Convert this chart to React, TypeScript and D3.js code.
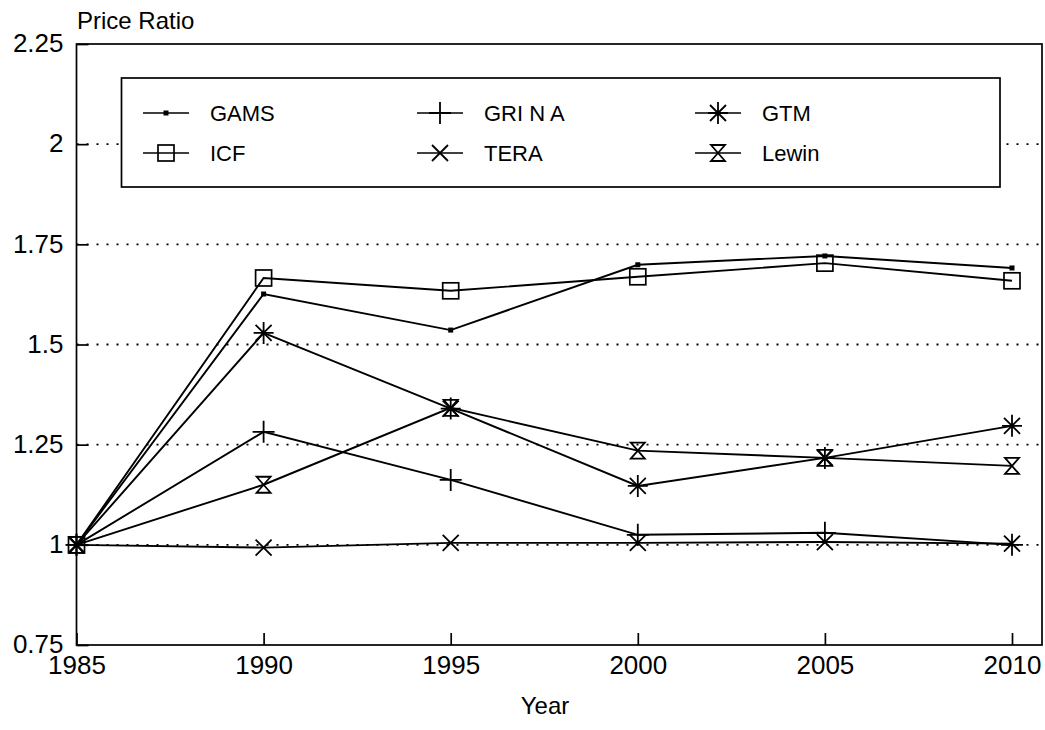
import * as d3 from 'd3';
import { useEffect, useRef } from 'react';

// Data
const years = [1985, 1990, 1995, 2000, 2005, 2010];
const gams = [1, 1.626, 1.536, 1.699, 1.721, 1.691];
const icf = [1, 1.666, 1.634, 1.669, 1.703, 1.659];
const griNA = [1, 1.282, 1.162, 1.025, 1.03, 1.0];
const tera = [1, 0.993, 1.005, 1.005, 1.007, 1.003];
const gtm = [1, 1.529, 1.34, 1.147, 1.217, 1.297];
const lewin = [1, 1.15, 1.342, 1.235, 1.217, 1.197];
const yTicks = [0.75, 1, 1.25, 1.5, 1.75, 2, 2.25];
const gridTicks = [1, 1.25, 1.5, 1.75, 2];

const series = [
    { name: 'GAMS', values: gams, marker: 'dot' },
    { name: 'ICF', values: icf, marker: 'square' },
    { name: 'GRI N A', values: griNA, marker: 'plus' },
    { name: 'TERA', values: tera, marker: 'cross' },
    { name: 'GTM', values: gtm, marker: 'star' },
    { name: 'Lewin', values: lewin, marker: 'hourglass' },
];

const FONT = '"Liberation Sans", Arial, Helvetica, sans-serif';

const drawMarker = (g, type, x, y) => {
    const m = g.append('g').attr('transform', `translate(${x},${y})`);
    if (type === 'dot') {
        m.append('rect').attr('x', -2.5).attr('y', -2.5).attr('width', 5).attr('height', 5).attr('fill', '#000');
    } else if (type === 'square') {
        m.append('rect').attr('x', -8).attr('y', -8).attr('width', 16).attr('height', 16)
            .attr('fill', 'none').attr('stroke', '#000').attr('stroke-width', 1.7);
    } else {
        let d = '';
        if (type === 'plus') d = 'M-11,0H11M0,-11V11';
        if (type === 'cross') d = 'M-8,-8L8,8M-8,8L8,-8';
        if (type === 'star') d = 'M-10,0H10M0,-11V11M-8,-8L8,8M-8,8L8,-8';
        if (type === 'hourglass') d = 'M-7,-8H7L-7,8H7Z';
        m.append('path').attr('d', d).attr('fill', 'none').attr('stroke', '#000').attr('stroke-width', 1.8);
    }
};

const App = () => {
    const ref = useRef(null);

    useEffect(() => {
        const svg = d3.select(ref.current);
        svg.selectAll('*').remove();

        const left = 76.5;
        const right = 1042;
        const top = 44;
        const bottom = 645;

        const x = d3.scaleLinear().domain([1985, 2010]).range([left, 1012]);
        const y = d3.scaleLinear().domain([0.75, 2.25]).range([bottom, top]);

        // dotted gridlines
        svg.append('g')
            .selectAll('line')
            .data(gridTicks)
            .enter()
            .append('line')
            .attr('x1', left)
            .attr('x2', right)
            .attr('y1', (d) => y(d))
            .attr('y2', (d) => y(d))
            .attr('stroke', '#000')
            .attr('stroke-width', 1.8)
            .attr('stroke-dasharray', '2,8');

        // frame
        svg.append('rect')
            .attr('x', left)
            .attr('y', top)
            .attr('width', right - left)
            .attr('height', bottom - top)
            .attr('fill', 'none')
            .attr('stroke', '#000')
            .attr('stroke-width', 1.7);

        // Y axis
        const yAxis = svg.append('g')
            .attr('transform', `translate(${left},0)`)
            .call(d3.axisLeft(y).tickValues(yTicks).tickFormat((d) => String(d)).tickSize(-12).tickPadding(13));
        yAxis.select('.domain').remove();
        yAxis.selectAll('line').attr('stroke-width', 1.7);
        yAxis.selectAll('text').attr('font-size', 26).attr('font-family', FONT).attr('fill', '#000').attr('dy', '0.3em');

        // X axis
        const xAxis = svg.append('g')
            .attr('transform', `translate(0,${bottom})`)
            .call(d3.axisBottom(x).tickValues(years).tickFormat((d) => String(d)).tickSize(-12).tickPadding(11));
        xAxis.select('.domain').remove();
        xAxis.selectAll('line').attr('stroke-width', 1.7);
        xAxis.selectAll('text').attr('font-size', 26).attr('font-family', FONT).attr('fill', '#000');

        // axis titles
        svg.append('text')
            .attr('x', 77)
            .attr('y', 29)
            .attr('font-size', 24)
            .attr('font-family', FONT)
            .text('Price Ratio');

        svg.append('text')
            .attr('x', 545)
            .attr('y', 714)
            .attr('text-anchor', 'middle')
            .attr('font-size', 24)
            .attr('font-family', FONT)
            .text('Year');

        // series lines
        const line = d3.line().x((d) => x(d[0])).y((d) => y(d[1]));
        series.forEach((s) => {
            const pts = years.map((yr, i) => [yr, s.values[i]]);
            svg.append('path')
                .attr('d', line(pts))
                .attr('fill', 'none')
                .attr('stroke', '#000')
                .attr('stroke-width', 1.9);
            const mg = svg.append('g');
            pts.forEach((p) => drawMarker(mg, s.marker, x(p[0]), y(p[1])));
        });

        // legend
        const legend = svg.append('g');
        legend.append('rect')
            .attr('x', 121.5)
            .attr('y', 78)
            .attr('width', 878.5)
            .attr('height', 109)
            .attr('fill', '#fff')
            .attr('stroke', '#000')
            .attr('stroke-width', 1.7);

        const colX = [166, 440, 718];
        const rowY = [113, 153];
        const order = ['GAMS', 'GRI N A', 'GTM', 'ICF', 'TERA', 'Lewin'];
        order.forEach((name, i) => {
            const s = series.find((d) => d.name === name);
            const cx = colX[i % 3];
            const cy = rowY[Math.floor(i / 3)];
            legend.append('line')
                .attr('x1', cx - 23)
                .attr('x2', cx + 23)
                .attr('y1', cy)
                .attr('y2', cy)
                .attr('stroke', '#000')
                .attr('stroke-width', 1.6);
            drawMarker(legend, s.marker, cx, cy);
            legend.append('text')
                .attr('x', cx + 44)
                .attr('y', cy + 8)
                .attr('font-size', 22)
                .attr('font-family', FONT)
                .text(name);
        });
    }, []);

    return (
        <svg
            ref={ref}
            width={1045}
            height={730}
            style={{ position: 'absolute', left: 0, top: 0, background: '#fff' }}
        />
    );
};

export default App;
